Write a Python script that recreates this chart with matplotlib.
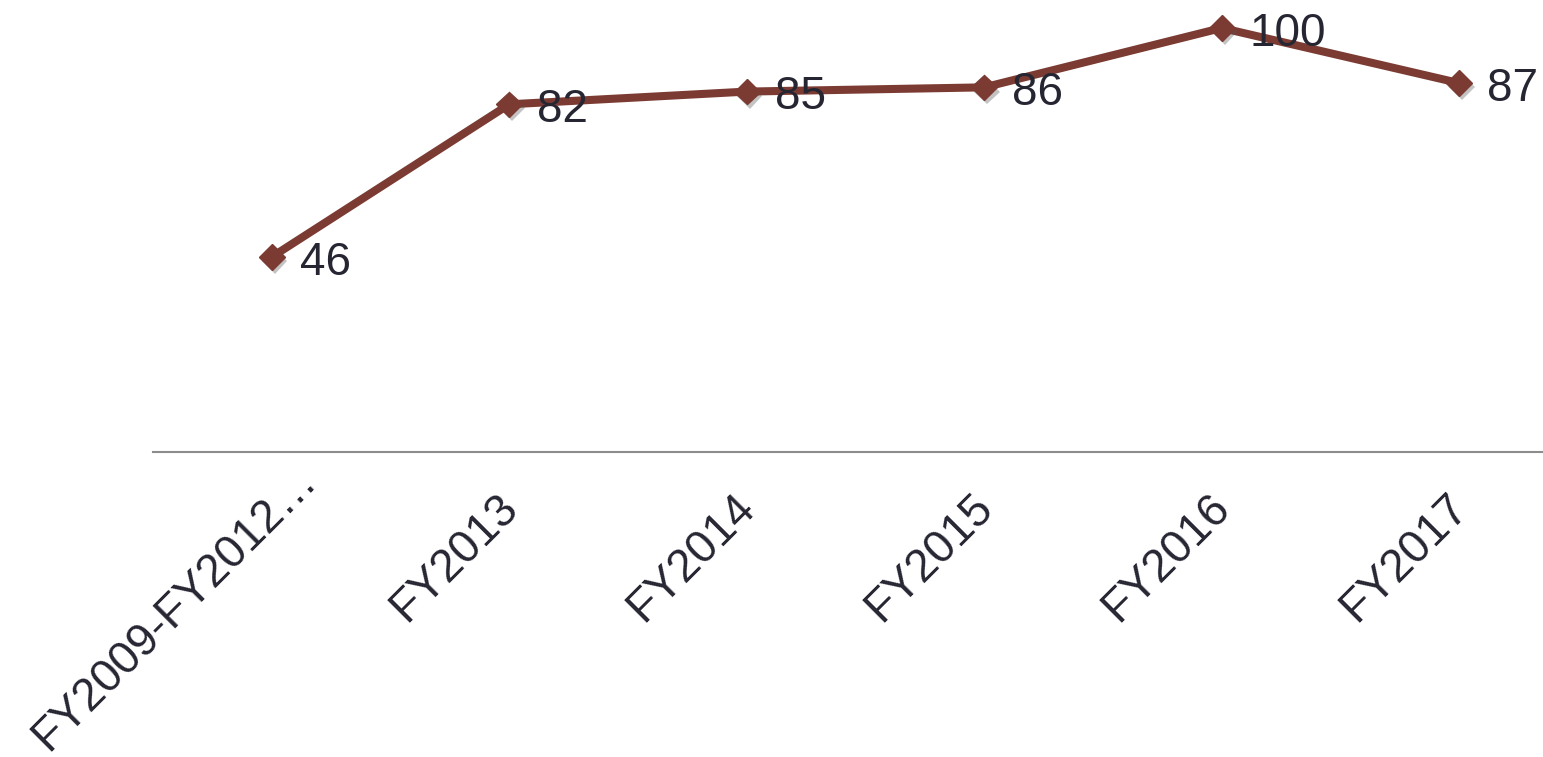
import matplotlib.pyplot as plt
import matplotlib.patheffects as pe
from matplotlib.transforms import ScaledTranslation

categories = ["FY2009-FY2012…", "FY2013", "FY2014", "FY2015", "FY2016", "FY2017"]
values = [46, 82, 85, 86, 100, 87]

line_color = "#7B3B32"
text_color = "#262633"

plt.rcParams['font.family'] = ['Liberation Sans', 'DejaVu Sans']

fig = plt.figure(figsize=(15.43, 7.57), dpi=100)
ax = fig.add_axes([153 / 1543, 305 / 757, 1425 / 1543, 452 / 757])

x = list(range(len(categories)))
shadow = [pe.SimplePatchShadow(offset=(2, -3), shadow_rgbFace="#555555", alpha=0.35), pe.Normal()]
ax.plot(x, values, color=line_color, lw=5.8, solid_capstyle="butt", zorder=2)
ax.plot(x, values, ls="none", marker="D", ms=13, color=line_color, zorder=3,
        path_effects=shadow)

for xi, v in zip(x, values):
    ax.annotate(str(v), (xi, v), xytext=(20, -4), textcoords="offset points",
                ha="left", va="center", fontsize=33, color=text_color, zorder=4)

ax.set_xlim(-0.5, len(categories) - 0.5)
ax.set_ylim(0, 106.6)
ax.set_xticks(x)
ax.set_xticklabels(categories, rotation=45, ha="right", rotation_mode="anchor",
                   fontsize=33, color=text_color)
ax.tick_params(axis="x", length=0, pad=30)

# nudge rotated labels (pixel offsets at 100 dpi)
for i, lab in enumerate(ax.get_xticklabels()):
    if i == 0:
        dx, dy = 22, 36
    else:
        dx, dy = -14, 8
    lab.set_transform(lab.get_transform() + ScaledTranslation(dx / 100, dy / 100, fig.dpi_scale_trans))

ax.set_yticks([])
for s in ["top", "left", "right"]:
    ax.spines[s].set_visible(False)
ax.spines["bottom"].set_color("#8c8c8c")
ax.spines["bottom"].set_linewidth(1.5)

fig.savefig("out.png", dpi=100)
